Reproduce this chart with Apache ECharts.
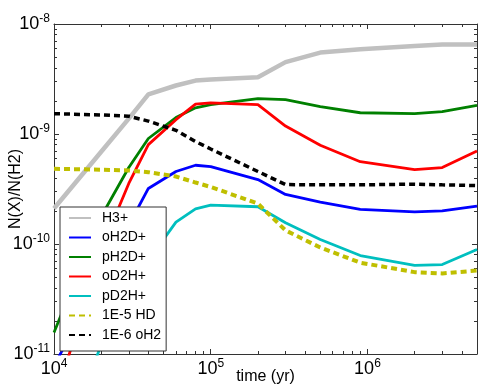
<!DOCTYPE html>
<html>
<head>
<meta charset="utf-8">
<script src="https://cdn.jsdelivr.net/npm/echarts@6/dist/echarts.min.js"></script>
<style>
  html, body { margin: 0; padding: 0; background: #fff; }
  #chart { width: 491px; height: 392px; }
</style>
</head>
<body>
<div id="chart"></div>
<script>
// model times (yr)
const times = [1e4, 2e4, 3e4, 4e4, 6e4, 8e4, 1e5, 2e5, 3e5, 5e5, 9e5, 2e6, 3e6, 5e6]

const h3p = [2.1e-10, 6.9e-10, 1.38e-9, 2.29e-9, 2.76e-9, 3.06e-9, 3.13e-9, 3.28e-9, 4.5e-9, 5.5e-9, 5.9e-9, 6.3e-9, 6.5e-9, 6.5e-9]
const oH2Dp = [7.8e-12, 5.0e-11, 1.48e-10, 3.2e-10, 4.56e-10, 5.2e-10, 5.05e-10, 3.85e-10, 2.82e-10, 2.4e-10, 2.06e-10, 1.96e-10, 2.0e-10, 2.21e-10]
const pH2Dp = [1.57e-11, 1.78e-10, 4.96e-10, 9.1e-10, 1.41e-9, 1.73e-9, 1.85e-9, 2.1e-9, 2.05e-9, 1.77e-9, 1.56e-9, 1.53e-9, 1.6e-9, 1.82e-9]
const oD2Hp = [3.5e-12, 8.9e-11, 3.55e-10, 8.0e-10, 1.35e-9, 1.87e-9, 1.92e-9, 1.85e-9, 1.18e-9, 7.9e-10, 5.6e-10, 4.75e-10, 4.95e-10, 7.0e-10]
const pD2Hp = [1e-12, 1.2e-11, 3.4e-11, 7.1e-11, 1.58e-10, 2.09e-10, 2.26e-10, 2.18e-10, 1.56e-10, 1.1e-10, 7.85e-11, 6.4e-11, 6.5e-11, 8.9e-11]
const hd = [4.83e-10, 4.74e-10, 4.66e-10, 4.5e-10, 4.11e-10, 3.62e-10, 3.3e-10, 2.33e-10, 1.33e-10, 9.3e-11, 6.76e-11, 5.55e-11, 5.4e-11, 5.74e-11]
const oH2 = [1.53e-9, 1.49e-9, 1.45e-9, 1.31e-9, 1.08e-9, 8.55e-10, 7.3e-10, 4.56e-10, 3.47e-10, 3.45e-10, 3.45e-10, 3.5e-10, 3.45e-10, 3.4e-10]

// tick labels
const xMajor = [1e4, 1e5, 1e6]
const yMajor = [1e-11, 1e-10, 1e-9, 1e-8]
const xMinor = [2e4, 3e4, 4e4, 5e4, 6e4, 7e4, 8e4, 9e4, 2e5, 3e5, 4e5, 5e5, 6e5, 7e5, 8e5, 9e5, 2e6, 3e6, 4e6]
const yMinor = [2e-11, 3e-11, 4e-11, 5e-11, 6e-11, 7e-11, 8e-11, 9e-11,
  2e-10, 3e-10, 4e-10, 5e-10, 6e-10, 7e-10, 8e-10, 9e-10,
  2e-9, 3e-9, 4e-9, 5e-9, 6e-9, 7e-9, 8e-9, 9e-9]

const frame = '#333'
const font = 'Liberation Sans, Arial, sans-serif'

function pow10Label(v) {
  return '{b|10}{s|' + Math.round(Math.log10(v)) + '}'
}
const richLabel = {
  b: { fontSize: 18, lineHeight: 22, color: '#000', fontFamily: font },
  s: { fontSize: 12, lineHeight: 12, verticalAlign: 'top', color: '#000', fontFamily: font }
}

function pairs(vals) {
  return times.map((t, i) => [t, vals[i]])
}

function axis(dim, pos, ticks, len, main) {
  const isX = dim === 'x'
  return {
    type: 'log',
    logBase: 10,
    position: pos,
    min: isX ? 1e4 : 1e-11,
    max: isX ? 5e6 : 1e-8,
    axisLine: { show: main, onZero: false, lineStyle: { color: frame, width: 1 } },
    axisTick: { show: true, inside: true, length: len, customValues: ticks, lineStyle: { color: frame, width: 1 } },
    axisLabel: { show: false },
    splitLine: { show: false },
    minorTick: { show: false },
    silent: true
  }
}

const xBottom = axis('x', 'bottom', xMajor, 5, true)
xBottom.axisLabel = { show: true, customValues: xMajor, formatter: pow10Label, rich: richLabel, margin: 4 }
xBottom.name = 'time (yr)'
xBottom.nameLocation = 'middle'
xBottom.nameGap = 15
xBottom.nameMoveOverlap = false
xBottom.nameTextStyle = { fontSize: 16, color: '#000', fontFamily: font, verticalAlign: 'top' }

const yLeft = axis('y', 'left', yMajor, 5, true)
yLeft.axisLabel = { show: true, customValues: yMajor, formatter: pow10Label, rich: richLabel, margin: 4 }
yLeft.name = 'N(X)/N(H2)'
yLeft.nameLocation = 'middle'
yLeft.nameGap = 30
yLeft.nameMoveOverlap = false
yLeft.nameTextStyle = { fontSize: 16, color: '#000', fontFamily: font }

const chart = echarts.init(document.getElementById('chart'))
chart.setOption({
  animation: false,
  backgroundColor: '#fff',
  grid: { left: 54, right: 14, top: 24, bottom: 38, containLabel: false, outerBoundsMode: 'none' },
  legend: {
    orient: 'vertical',
    left: 60,
    top: 207,
    padding: [4, 5, 9, 8],
    itemWidth: 22,
    itemHeight: 14,
    itemGap: 5.5,
    backgroundColor: '#fff',
    borderColor: frame,
    borderWidth: 1,
    itemStyle: { opacity: 0 },
    textStyle: { fontSize: 14, color: '#000', fontFamily: font, padding: [0, 0, 0, 6] },
    data: ['H3+', 'oH2D+', 'pH2D+', 'oD2H+', 'pD2H+', '1E-5 HD', '1E-6 oH2']
  },
  xAxis: [
    xBottom,
    axis('x', 'bottom', xMinor, 3, false),
    axis('x', 'top', xMajor, 5, true),
    axis('x', 'top', xMinor, 3, false)
  ],
  yAxis: [
    yLeft,
    axis('y', 'left', yMinor, 3, false),
    axis('y', 'right', yMajor, 5, true),
    axis('y', 'right', yMinor, 3, false)
  ],
  series: [
    { name: 'H3+', type: 'line', symbol: 'none', data: pairs(h3p), lineStyle: { color: '#c0c0c0', width: 4.5 }, itemStyle: { color: '#c0c0c0' } },
    { name: 'oH2D+', type: 'line', symbol: 'none', data: pairs(oH2Dp), lineStyle: { color: '#0000ff', width: 2.8 }, itemStyle: { color: '#0000ff' } },
    { name: 'pH2D+', type: 'line', symbol: 'none', data: pairs(pH2Dp), lineStyle: { color: '#008000', width: 2.8 }, itemStyle: { color: '#008000' } },
    { name: 'oD2H+', type: 'line', symbol: 'none', data: pairs(oD2Hp), lineStyle: { color: '#ff0000', width: 2.8 }, itemStyle: { color: '#ff0000' } },
    { name: 'pD2H+', type: 'line', symbol: 'none', data: pairs(pD2Hp), lineStyle: { color: '#00bfbf', width: 2.8 }, itemStyle: { color: '#00bfbf' } },
    { name: '1E-5 HD', type: 'line', symbol: 'none', data: pairs(hd), lineStyle: { color: '#bfbf00', width: 4, type: [6, 4] }, itemStyle: { color: '#bfbf00' } },
    { name: '1E-6 oH2', type: 'line', symbol: 'none', data: pairs(oH2), lineStyle: { color: '#000', width: 3.5, type: [6, 4] }, itemStyle: { color: '#000' } }
  ]
})
</script>
</body>
</html>
